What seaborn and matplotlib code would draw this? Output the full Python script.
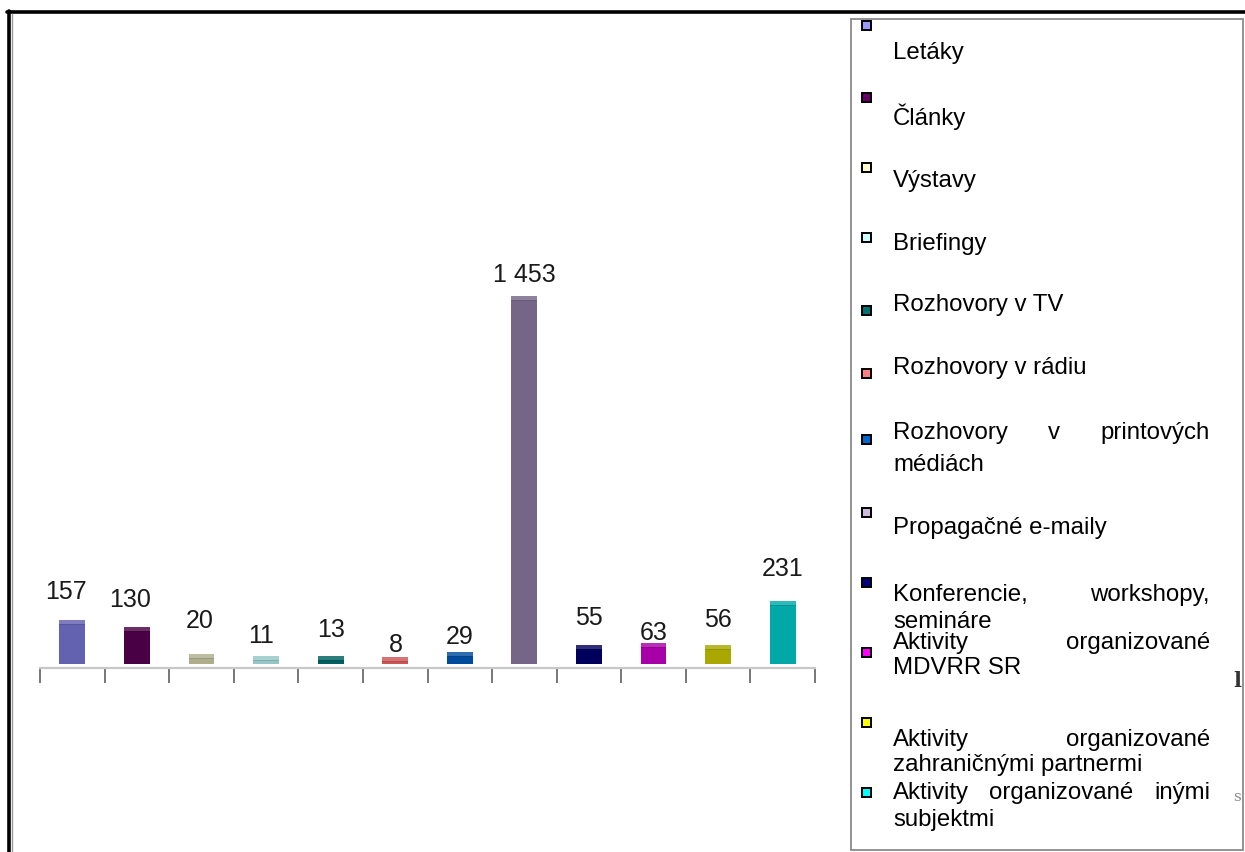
import numpy as np
import pandas as pd
import matplotlib
matplotlib.use("Agg")
import matplotlib.pyplot as plt
from matplotlib.lines import Line2D
from matplotlib.patches import Rectangle
from matplotlib.colors import to_rgb
import seaborn as sns

# ---- data -------------------------------------------------------------
categories = [
    "Letáky", "Články", "Výstavy", "Briefingy", "Rozhovory v TV",
    "Rozhovory v rádiu", "Rozhovory v printových médiách",
    "Propagačné e-maily", "Konferencie, workshopy, semináre",
    "Aktivity organizované MDVRR SR",
    "Aktivity organizované zahraničnými partnermi",
    "Aktivity organizované inými subjektmi",
]
counts = [157, 130, 20, 11, 13, 8, 29, 1453, 55, 63, 56, 231]

# legend text, already wrapped into lines
legend_lines = [
    ["Letáky"],
    ["Články"],
    ["Výstavy"],
    ["Briefingy"],
    ["Rozhovory v TV"],
    ["Rozhovory v rádiu"],
    ["Rozhovory v printových", "médiách"],
    ["Propagačné e-maily"],
    ["Konferencie, workshopy,", "semináre"],
    ["Aktivity organizované", "MDVRR SR"],
    ["Aktivity organizované", "zahraničnými partnermi"],
    ["Aktivity organizované inými", "subjektmi"],
]

bar_colors = ["#6262B0", "#4A0044", "#AEAE8C", "#96C6C6", "#006060", "#CC5656",
              "#004C9C", "#756688", "#00005C", "#A800A8", "#A8A800", "#00A8A8"]
legend_colors = ["#9999FF", "#660066", "#FFFFCC", "#CCFFFF", "#007070", "#FF8080",
                 "#0066CC", "#CCBBDD", "#000080", "#FF00FF", "#FFFF00", "#00FFFF"]

# ---- figure -----------------------------------------------------------
sns.set_theme(style="white")
plt.rcParams["font.family"] = ["Liberation Sans", "DejaVu Sans"]

W, H = 1245, 853
fig = plt.figure(figsize=(W / 100, H / 100), dpi=100)
fig.patch.set_facecolor("white")


def fx(x):
    return x / W


def fy(y):
    return 1 - y / H


AX_TOP, AX_BOTTOM = 40, 665
ax = fig.add_axes([fx(40), fy(AX_BOTTOM), fx(815) - fx(40), fy(AX_TOP) - fy(AX_BOTTOM)])
ax.set_facecolor("none")

df = pd.DataFrame({"category": categories, "count": counts})
sns.barplot(data=df, x="category", y="count", hue="category",
            palette=bar_colors, legend=False, width=0.4, saturation=1,
            linewidth=0, ax=ax)

YMAX = 2502
ax.set_xlim(-0.5, len(categories) - 0.5)
ax.set_ylim(0, YMAX)

# lighter top face of each column (pseudo-3D look)
cap_px = 5
cap_units = cap_px * YMAX / (AX_BOTTOM - AX_TOP)


def lighten(c, f=0.18):
    r, g, b = to_rgb(c)
    return (r + (1 - r) * f, g + (1 - g) * f, b + (1 - b) * f)


def darken(c, f=0.12):
    r, g, b = to_rgb(c)
    return (r * (1 - f), g * (1 - f), b * (1 - f))


ax.bar(range(len(counts)), cap_units, bottom=counts, width=0.4,
       color=[lighten(c) for c in bar_colors], linewidth=0)
# thin seam between the top face and the front face
ax.bar(range(len(counts)), cap_units * 0.2, bottom=counts, width=0.4,
       color=[darken(c) for c in bar_colors], linewidth=0)

for side in ["top", "left", "right"]:
    ax.spines[side].set_visible(False)
ax.spines["bottom"].set_color("#c8c8c8")
ax.spines["bottom"].set_linewidth(1.6)
ax.spines["bottom"].set_position(("outward", 3))
ax.set_xticks(np.arange(-0.5, len(categories), 1.0))
ax.set_xticklabels([])
ax.set_yticks([])
ax.set_xlabel("")
ax.set_ylabel("")
ax.tick_params(axis="x", bottom=True, direction="out", length=11,
               width=1.4, color="#777777", pad=2)

# value labels above the bars (extra lift in pixels per label)
label_lift = [22, 21, 27, 14, 20, 6, 9, 15, 21, 4, 19, 26]
label_dx = [-6, -7, -2, -5, 0, 1, 0, 0, 0, 0, 0, 0]
for i, v in enumerate(counts):
    ax.annotate(f"{v:,}".replace(",", " "), xy=(i, v),
                xytext=(label_dx[i] * 0.72, (cap_px + label_lift[i]) * 0.72),
                textcoords="offset points", ha="center", va="baseline",
                fontsize=18, color="#1a1a1a")

# ---- frame ------------------------------------------------------------
fig.add_artist(Line2D([fx(7), 1.0], [fy(13), fy(13)], color="black", lw=2.6))
fig.add_artist(Line2D([fx(8.5), fx(8.5)], [fy(12), 0.0], color="black", lw=2.6))
fig.add_artist(Line2D([fx(11.5), fx(11.5)], [fy(15), 0.0], color="#999999", lw=1.0))

# legend box
fig.add_artist(Rectangle((fx(851), fy(851)), fx(1243) - fx(851),
                         fy(20) - fy(851), fill=False, edgecolor="#8a8a8a",
                         lw=1.3))

# ---- legend -----------------------------------------------------------
marker_y = [26, 98, 168, 238, 311, 374, 440, 513, 583, 653, 723, 793]
text_y = [53, 117, 181, 244, 305, 368, 433, 528, 595, 643, 740, 793]
line_gap = [26, 26, 26, 26, 26, 26, 32, 26, 27, 25, 25, 27]
text_left, text_right = 893, 1210
fs = 17.3

renderer = fig.canvas.get_renderer()


def justified(line, y):
    words = line.split(" ")
    arts = [fig.text(fx(text_left), fy(y), w, fontsize=fs, va="center",
                     ha="left", color="black") for w in words]
    widths = [a.get_window_extent(renderer).width for a in arts]
    gap = (text_right - text_left - sum(widths)) / (len(words) - 1)
    x = text_left
    for a, w in zip(arts, widths):
        a.set_x(fx(x))
        x += w + gap


for k, lines in enumerate(legend_lines):
    fig.add_artist(Rectangle((fx(862), fy(marker_y[k] + 4.5)), fx(9), 9 / H,
                             facecolor=legend_colors[k], edgecolor="black",
                             lw=1.4))
    for j, line in enumerate(lines):
        y = text_y[k] + j * line_gap[k]
        if j < len(lines) - 1 and " " in line:
            justified(line, y)
        else:
            fig.text(fx(text_left), fy(y), line, fontsize=fs, va="center",
                     ha="left", color="black")

# stray glyphs at the right margin
fig.text(fx(1237), fy(681), "l", fontsize=15, family="DejaVu Serif",
         ha="center", va="center", color="#333333", fontweight="bold")
fig.text(fx(1237), fy(797), "s", fontsize=11, family="DejaVu Serif",
         ha="center", va="center", color="#888888")

fig.savefig("out.png", dpi=100, facecolor="white")
